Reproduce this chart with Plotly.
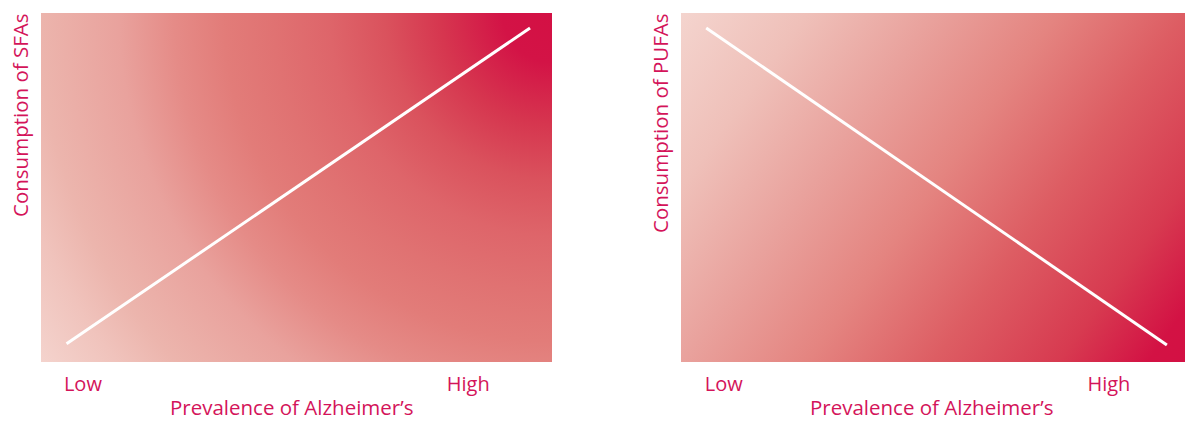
import base64
import plotly.graph_objects as go

# ---- data ----
sfa_x = [0.05, 0.957]
sfa_y = [0.052, 0.957]
pufa_x = [0.05, 0.964]
pufa_y = [0.957, 0.049]
tick_vals_left = [0.082, 0.836]
tick_vals_right = [0.085, 0.849]
tick_text = ["Low", "High"]
x_title = "Prevalence of Alzheimer’s"
y_title_left = "Consumption of SFAs"
y_title_right = "Consumption of PUFAs"

TEXT = "#d4145a"
FONT = "Open Sans, Noto Sans, sans-serif"

# ---- background gradients (pure styling) ----
left_stops = [(0, "#d31044"), (0.08, "#d31346"), (0.18, "#d6364f"), (0.27, "#da525d"),
              (0.36, "#de656a"), (0.45, "#e07272"), (0.53, "#e27c79"), (0.61, "#e58b87"),
              (0.70, "#e9a29d"), (0.83, "#ecb5ad"), (0.9, "#f0c3bc"), (1.0, "#f4d3cd")]
right_stops = [(0, "#f4d4ce"), (0.167, "#efc0b9"), (0.333, "#e9a29d"), (0.5, "#e48480"),
               (0.667, "#dd5d63"), (0.833, "#d73a50"), (0.95, "#d31244"), (1.0, "#d31044")]


def stops_svg(stops):
    return "".join(f'<stop offset="{o}" stop-color="{c}"/>' for o, c in stops)


W, H = 511, 349
R = (W ** 2 + H ** 2) ** 0.5
svg_left = (f'<svg xmlns="http://www.w3.org/2000/svg" width="{W}" height="{H}" viewBox="0 0 {W} {H}" '
            f'preserveAspectRatio="none"><defs><radialGradient id="g" gradientUnits="userSpaceOnUse" '
            f'cx="{W}" cy="0" r="{R:.1f}">{stops_svg(left_stops)}</radialGradient></defs>'
            f'<rect width="{W}" height="{H}" fill="url(#g)"/></svg>')
svg_right = ('<svg xmlns="http://www.w3.org/2000/svg" width="100" height="100" viewBox="0 0 1 1" '
             'preserveAspectRatio="none"><defs><linearGradient id="g" gradientUnits="userSpaceOnUse" '
             f'x1="0" y1="0" x2="1.2" y2="0.6">{stops_svg(right_stops)}</linearGradient></defs>'
             '<rect width="1" height="1" fill="url(#g)"/></svg>')


def uri(s):
    return "data:image/svg+xml;base64," + base64.b64encode(s.encode()).decode()


fig = go.Figure()
fig.add_trace(go.Scatter(x=sfa_x, y=sfa_y, mode="lines", line=dict(color="white", width=3),
                         xaxis="x", yaxis="y", hoverinfo="skip", showlegend=False))
fig.add_trace(go.Scatter(x=pufa_x, y=pufa_y, mode="lines", line=dict(color="white", width=3),
                         xaxis="x2", yaxis="y2", hoverinfo="skip", showlegend=False))

yd = [1 - 362 / 423, 1 - 13 / 423]
axis_common = dict(range=[0, 1], showgrid=False, zeroline=False, showline=False, fixedrange=True)
tickfont = dict(family=FONT, size=20, color=TEXT)
titlefont = dict(family=FONT, size=20.5, color=TEXT)

fig.update_layout(
    width=1185, height=423,
    margin=dict(l=0, r=0, t=0, b=0),
    paper_bgcolor="white", plot_bgcolor="rgba(0,0,0,0)",
    xaxis=dict(domain=[41 / 1185, 552 / 1185], anchor="y", tickvals=tick_vals_left, ticktext=tick_text,
               tickfont=tickfont, ticks="", ticklabelstandoff=8, **axis_common),
    yaxis=dict(domain=yd, anchor="x", showticklabels=False, **axis_common),
    xaxis2=dict(domain=[681 / 1185, 1.0], anchor="y2", tickvals=tick_vals_right, ticktext=tick_text,
                tickfont=tickfont, ticks="", ticklabelstandoff=8, **axis_common),
    yaxis2=dict(domain=yd, anchor="x2", showticklabels=False, **axis_common),
    images=[
        dict(source=uri(svg_left), xref="x", yref="y", x=0, y=1, sizex=1, sizey=1,
             sizing="stretch", xanchor="left", yanchor="top", layer="below"),
        dict(source=uri(svg_right), xref="x2", yref="y2", x=0, y=1, sizex=1, sizey=1,
             sizing="stretch", xanchor="left", yanchor="top", layer="below"),
    ],
    annotations=[
        dict(text=x_title, xref="paper", yref="paper", x=291 / 1185, y=0,
             showarrow=False, font=titlefont, xanchor="center", yanchor="bottom"),
        dict(text=x_title, xref="paper", yref="paper", x=931 / 1185, y=0,
             showarrow=False, font=titlefont, xanchor="center", yanchor="bottom"),
        dict(text=y_title_left, xref="paper", yref="paper", x=20 / 1185, y=1 - 11 / 423, textangle=-90,
             showarrow=False, font=titlefont, xanchor="center", yanchor="top"),
        dict(text=y_title_right, xref="paper", yref="paper", x=660 / 1185, y=1 - 11 / 423, textangle=-90,
             showarrow=False, font=titlefont, xanchor="center", yanchor="top"),
    ],
)

fig.write_html("out.html", config={"displayModeBar": False},
               post_script="document.body.style.margin='0';document.body.style.padding='0';")
